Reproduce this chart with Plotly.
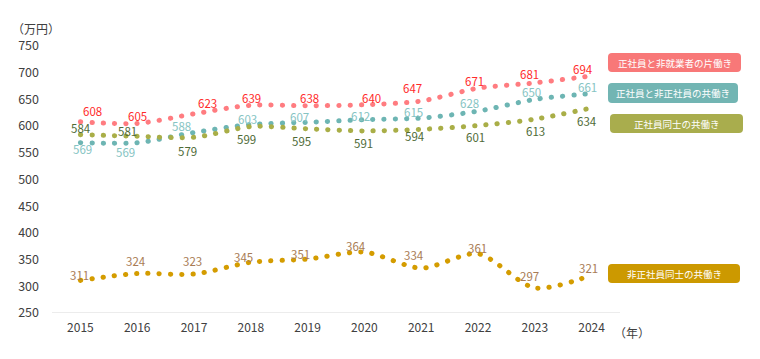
import plotly.graph_objects as go

years = ["2015", "2016", "2017", "2018", "2019", "2020", "2021", "2022", "2023", "2024"]
s_red_name = "正社員と非就業者の片働き"
s_teal_name = "正社員と非正社員の共働き"
s_olive_name = "正社員同士の共働き"
s_gold_name = "非正社員同士の共働き"
s_red = [608, 605, 623, 639, 638, 640, 647, 671, 681, 694]
s_teal = [569, 569, 588, 603, 607, 612, 615, 628, 650, 661]
s_olive = [584, 581, 579, 599, 595, 591, 594, 601, 613, 634]
s_gold = [311, 324, 323, 345, 351, 364, 334, 361, 297, 321]
y_ticks = [250, 300, 350, 400, 450, 500, 550, 600, 650, 700, 750]

# label offsets in pixels (dx, dy up)
off_red = [(12, 11), (0, 7), (13, 11), (1, 7), (2, 8), (7, 7), (-9, 13), (-4, 7), (-5, 9), (-9, 7)]
off_teal = [(2, -6), (-12, -9), (-13, 7), (-3, 6), (-8, 5), (-4, 4), (-8, 6), (-9, 8), (-3, 7), (-4, 7)]
off_olive = [(1, 7), (-10, 5), (-7, -14), (-4, -12), (-6, -12), (-1, -12), (-6, -7), (-3, -11), (1, -12), (-5, -13)]
off_gold = [(-1, 5), (-1, 12), (-2, 13), (-7, 5), (-7, 5), (-8, 6), (-7, 13), (-1, 6), (-5, 12), (-3, 7)]

FONT = "Noto Sans CJK JP, Noto Sans, sans-serif"
series = [
    (s_red_name, s_red, "#FF7C80", "#FF2B2B", off_red),
    (s_teal_name, s_teal, "#6DB5B3", "#86C4C3", off_teal),
    (s_olive_name, s_olive, "#A9AE47", "#4F6B37", off_olive),
    (s_gold_name, s_gold, "#D49C00", "#A97C55", off_gold),
]

xs = list(range(len(years)))
fig = go.Figure()
annotations = []
for name, vals, lc, tc, offs in series:
    fig.add_trace(go.Scatter(
        x=xs, y=vals, mode="lines", name=name,
        line=dict(color=lc, width=5, dash="0.3px,11px", shape="spline", smoothing=0.8),
        hoverinfo="skip", showlegend=False,
    ))
    for i, v in enumerate(vals):
        dx, dy = offs[i]
        annotations.append(dict(
            x=i, y=v, xref="x", yref="y", text=str(v), showarrow=False,
            xshift=dx, yshift=dy, font=dict(family=FONT, size=11.5, color=tc),
        ))

# plot area in pixels
L, R, T, B = 52, 620, 46, 313
W, H = R - L, B - T


def px2paper(px, py):
    return (px - L) / W, (B - py) / H


def rounded_rect(x0, y0, x1, y1, r=4):
    def P(px, py):
        a, b = px2paper(px, py)
        return f"{a:.5f},{b:.5f}"
    path = (f"M {P(x0 + r, y0)} L {P(x1 - r, y0)} Q {P(x1, y0)} {P(x1, y0 + r)} "
            f"L {P(x1, y1 - r)} Q {P(x1, y1)} {P(x1 - r, y1)} L {P(x0 + r, y1)} "
            f"Q {P(x0, y1)} {P(x0, y1 - r)} L {P(x0, y0 + r)} Q {P(x0, y0)} {P(x0 + r, y0)} Z")
    return path


boxes = [
    (s_red_name, (608, 53, 741, 72), "#F87878"),
    (s_teal_name, (608, 83, 738, 103), "#72B5B3"),
    (s_olive_name, (610, 114, 743, 133), "#A9AD4D"),
    (s_gold_name, (608, 264, 740, 283), "#CC9900"),
]
shapes = []
for name, (x0, y0, x1, y1), col in boxes:
    shapes.append(dict(type="path", xref="paper", yref="paper", path=rounded_rect(x0, y0, x1, y1),
                       fillcolor=col, line=dict(width=0), layer="above"))
    cx, cy = px2paper((x0 + x1) / 2, (y0 + y1) / 2)
    annotations.append(dict(x=cx, y=cy, xref="paper", yref="paper", text=name, showarrow=False,
                            xanchor="center", yanchor="middle",
                            font=dict(family=FONT, size=9.5, color="white")))

ux, uy = px2paper(36, 28)
annotations.append(dict(x=ux, y=uy, xref="paper", yref="paper", text="（万円）", showarrow=False,
                        xanchor="center", yanchor="middle", font=dict(family=FONT, size=12, color="#404040")))
nx, ny = px2paper(632, 332)
annotations.append(dict(x=nx, y=ny, xref="paper", yref="paper", text="（年）", showarrow=False,
                        xanchor="center", yanchor="middle", font=dict(family=FONT, size=12, color="#404040")))

fig.update_layout(
    width=760, height=359,
    margin=dict(l=L, r=760 - R, t=T, b=359 - B, pad=0),
    paper_bgcolor="white", plot_bgcolor="white",
    font=dict(family=FONT, size=12, color="#404040"),
    xaxis=dict(range=[-0.5, len(years) - 0.5], tickvals=xs, ticktext=years, showgrid=False,
               zeroline=False, showline=False, ticks="", tickfont=dict(size=12, color="#404040"),
               ticklabelstandoff=6, fixedrange=True),
    yaxis=dict(range=[250, 750], tickvals=y_ticks, showgrid=False, zeroline=False, showline=False,
               ticks="", tickfont=dict(size=12.5, color="#404040"), ticklabelstandoff=12, fixedrange=True),
    shapes=shapes + [dict(type="line", xref="paper", yref="y", x0=0, x1=1, y0=250, y1=250,
                          line=dict(color="#D9D9D9", width=1), layer="below")],
    annotations=annotations,
    showlegend=False,
)

post = """
document.body.style.margin = '0';
document.body.style.padding = '0';
var gd = document.getElementById('{plot_id}');
function rc(){ document.querySelectorAll('.js-line').forEach(function(p){ p.style.strokeLinecap='round'; }); }
rc();
if (gd && gd.on) { gd.on('plotly_afterplot', rc); }
"""
fig.write_html("out.html", post_script=post, config={"displayModeBar": False})
